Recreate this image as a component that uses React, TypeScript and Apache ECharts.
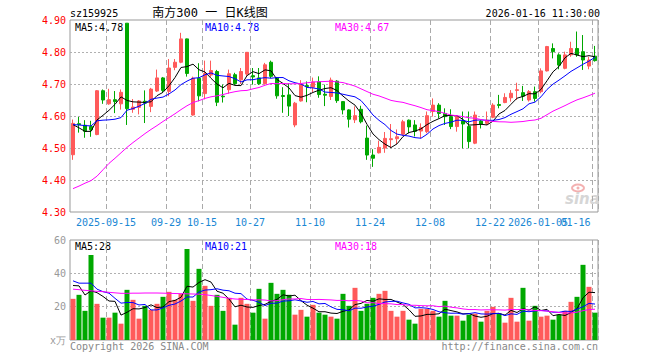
import React, { useEffect, useRef } from 'react';
import * as echarts from 'echarts';

const dates = [
  '2025-09-05','2025-09-08','2025-09-09','2025-09-10','2025-09-11','2025-09-12','2025-09-15','2025-09-16','2025-09-17','2025-09-18',
  '2025-09-19','2025-09-22','2025-09-23','2025-09-24','2025-09-25','2025-09-26','2025-09-29','2025-09-30',
  '2025-10-09','2025-10-10','2025-10-13','2025-10-14','2025-10-15','2025-10-16','2025-10-17','2025-10-20','2025-10-21','2025-10-22',
  '2025-10-23','2025-10-24','2025-10-27','2025-10-28','2025-10-29','2025-10-30','2025-10-31',
  '2025-11-03','2025-11-04','2025-11-05','2025-11-06','2025-11-07','2025-11-10','2025-11-11','2025-11-12','2025-11-13','2025-11-14',
  '2025-11-17','2025-11-18','2025-11-19','2025-11-20','2025-11-21','2025-11-24','2025-11-25','2025-11-26','2025-11-27','2025-11-28',
  '2025-12-01','2025-12-02','2025-12-03','2025-12-04','2025-12-05','2025-12-08','2025-12-09','2025-12-10','2025-12-11','2025-12-12',
  '2025-12-15','2025-12-16','2025-12-17','2025-12-18','2025-12-19','2025-12-22','2025-12-23','2025-12-24','2025-12-25','2025-12-26',
  '2025-12-29','2025-12-30','2025-12-31',
  '2026-01-05','2026-01-06','2026-01-07','2026-01-08','2026-01-09','2026-01-12','2026-01-13','2026-01-14','2026-01-15','2026-01-16',
];

const opens = [
  4.479,4.576,4.571,4.567,4.542,4.679,4.638,4.651,4.638,4.890,
  4.621,4.627,4.646,4.630,4.678,4.719,4.677,4.752,4.768,4.841,
  4.603,4.718,4.670,4.728,4.739,4.662,4.682,4.729,4.713,4.731,
  4.726,4.719,4.701,4.768,4.719,4.664,4.666,4.572,4.647,4.695,
  4.690,4.707,4.668,4.661,4.709,4.645,4.619,4.588,4.621,4.531,
  4.478,4.485,4.500,4.526,4.529,4.543,4.587,4.572,4.553,4.551,
  4.614,4.634,4.608,4.598,4.567,4.584,4.567,4.515,4.584,4.577,
  4.596,4.636,4.642,4.657,4.680,4.673,4.650,4.676,4.676,4.741,
  4.811,4.791,4.749,4.791,4.811,4.801,4.756,4.787,
];
const closes = [
  4.577,4.573,4.552,4.557,4.679,4.650,4.651,4.645,4.674,4.623,
  4.628,4.647,4.640,4.684,4.719,4.680,4.750,4.768,4.841,4.733,
  4.718,4.663,4.733,4.742,4.643,4.660,4.732,4.701,4.739,4.799,
  4.722,4.701,4.760,4.724,4.663,4.661,4.631,4.640,4.699,4.692,
  4.706,4.667,4.665,4.712,4.648,4.619,4.590,4.601,4.582,4.478,
  4.468,4.502,4.530,4.529,4.535,4.582,4.566,4.552,4.564,4.601,
  4.634,4.608,4.598,4.567,4.598,4.575,4.520,4.603,4.575,4.587,
  4.634,4.633,4.658,4.671,4.682,4.662,4.676,4.655,4.741,4.817,
  4.801,4.759,4.791,4.811,4.791,4.775,4.775,4.773,
];
const lows = [
  4.463,4.548,4.532,4.535,4.540,4.638,4.635,4.609,4.620,4.572,
  4.610,4.605,4.578,4.612,4.675,4.675,4.662,4.743,4.765,4.723,
  4.601,4.646,4.652,4.722,4.631,4.642,4.670,4.697,4.700,4.724,
  4.698,4.697,4.698,4.718,4.654,4.610,4.600,4.565,4.645,4.643,
  4.675,4.657,4.631,4.650,4.641,4.605,4.564,4.578,4.577,4.463,
  4.441,4.483,4.485,4.500,4.512,4.538,4.546,4.536,4.530,4.546,
  4.598,4.593,4.572,4.559,4.551,4.499,4.499,4.512,4.561,4.572,
  4.593,4.624,4.640,4.645,4.650,4.647,4.645,4.645,4.671,4.739,
  4.780,4.746,4.746,4.785,4.785,4.744,4.746,4.770,
];
const highs = [
  4.589,4.597,4.587,4.585,4.681,4.683,4.685,4.678,4.683,4.890,
  4.653,4.650,4.680,4.688,4.745,4.722,4.778,4.778,4.860,4.842,
  4.723,4.765,4.773,4.773,4.744,4.698,4.745,4.735,4.750,4.800,
  4.750,4.750,4.766,4.773,4.722,4.690,4.702,4.644,4.712,4.708,
  4.720,4.724,4.698,4.720,4.712,4.646,4.621,4.630,4.632,4.570,
  4.496,4.523,4.550,4.575,4.558,4.588,4.589,4.587,4.577,4.614,
  4.655,4.640,4.624,4.621,4.603,4.614,4.614,4.614,4.587,4.614,
  4.640,4.666,4.671,4.681,4.704,4.694,4.681,4.692,4.749,4.819,
  4.827,4.796,4.801,4.832,4.864,4.853,4.785,4.819,
];
// volume, unit: 万手
const volumes = [
  24.7,27.1,17.5,51.0,21.7,13.4,13.4,16.4,9.8,30.1,
  24.1,12.8,20.5,18.1,21.7,25.9,28.9,24.1,27.7,54.6,
  23.5,42.7,32.5,20.5,27.1,17.5,25.3,9.2,25.3,21.7,
  16.4,30.7,12.8,34.3,27.7,30.1,27.1,15.2,18.1,14.0,
  21.1,16.4,15.2,14.0,12.8,27.7,20.5,31.3,17.5,21.7,
  25.3,27.7,29.5,17.5,14.0,17.5,12.2,9.8,18.7,18.7,
  17.5,14.0,23.5,14.6,14.6,11.6,15.2,15.8,11.0,17.5,
  19.9,15.8,10.4,25.3,11.0,31.3,11.6,20.5,14.0,14.6,
  12.2,15.2,17.5,22.9,25.9,45.1,31.9,16.4,
];

// moving-average values before enough in-window history exists
const priceMa5Head = [4.573, 4.563, 4.552, 4.552];
const priceMa10Head = [4.573, 4.572, 4.570, 4.569, 4.585, 4.587, 4.588, 4.590, 4.595];
const priceMa30Head = [
  4.373,4.381,4.390,4.398,4.412,4.432,4.452,4.468,4.485,4.502,
  4.517,4.531,4.545,4.558,4.570,4.583,4.595,4.607,4.620,4.632,
  4.642,4.648,4.655,4.660,4.663,4.667,4.672,4.676,4.679,
];
const volMa5Head = [32.7, 32.5, 27.0, 29.5];
const volMa10Head = [35.5, 34.1, 34.1, 34.1, 30.5, 29.0, 28.1, 25.0, 22.1];
const volMa30Head = [
  30.5,30.2,29.8,29.5,29.2,29.0,28.6,28.3,28.0,28.0,
  28.1,28.1,28.2,28.2,28.2,28.1,28.0,27.9,27.8,27.7,
  27.6,27.5,27.2,26.7,26.2,25.6,25.0,24.6,24.4,
];

const tickDates = ['2025-09-15','2025-09-29','2025-10-15','2025-10-27','2025-11-10','2025-11-24','2025-12-08','2025-12-22','2026-01-05','2026-01-16'];
const tickLabels = ['2025-09-15','09-29','10-15','10-27','11-10','11-24','12-08','12-22','2026-01-05','01-16'];

const UP = '#ff5a5a';
const DOWN = '#00a800';
const MONO = '"DejaVu Sans Mono", "Liberation Mono", monospace';
const LABEL_BLUE = '#1a87d4';

function movingAverage(values: number[], n: number, head: number[]) {
  return values.map((_, i) => {
    if (i < n - 1) return head[i];
    let s = 0;
    for (let k = i - n + 1; k <= i; k++) s += values[k];
    return +(s / n).toFixed(4);
  });
}
const trunc = (v: number, d: number) => {
  const p = Math.pow(10, d);
  return (Math.floor(v * p + 1e-9) / p).toFixed(d);
};

export default function App() {
  const ref = useRef<HTMLDivElement>(null);
  useEffect(() => {
    if (!ref.current) return;
    const chart = echarts.init(ref.current, null, { renderer: 'svg' });
    const pMa5 = movingAverage(closes, 5, priceMa5Head);
    const pMa10 = movingAverage(closes, 10, priceMa10Head);
    const pMa30 = movingAverage(closes, 30, priceMa30Head);
    const vMa5 = movingAverage(volumes, 5, volMa5Head);
    const vMa10 = movingAverage(volumes, 10, volMa10Head);
    const vMa30 = movingAverage(volumes, 30, volMa30Head);
    const last = dates.length - 1;
    const tickIdx = tickDates.map((d) => dates.indexOf(d));
    const lastTick = tickIdx[tickIdx.length - 1];
    const isTick = (index: number) => tickIdx.includes(index);
    const isInnerTick = (index: number) => tickIdx.includes(index) && index !== lastTick;

    const xAxisBase = (grid: number, showLabel: boolean) => ({
      type: 'category',
      gridIndex: grid,
      position: 'bottom',
      offset: 0,
      data: dates,
      boundaryGap: true,
      axisLine: { show: false },
      axisTick: { show: false },
      splitLine: { show: true, interval: isTick, lineStyle: { color: '#aaaaaa', type: [5, 3], width: 1 } },
      axisLabel: {
        show: showLabel,
        interval: isInnerTick,
        margin: 5,
        formatter: (_v: string, index: number) => {
          const k = tickIdx.indexOf(index);
          return k < 0 ? '' : `{m|${tickLabels[k]}}`;
        },
        rich: { m: { fontFamily: MONO, fontSize: 10, color: LABEL_BLUE, padding: [0, 6, 0, 0] } },
      },
    });

    // separate axis carrying only the last date label (it overlaps the previous one, as in the original)
    const lastLabelAxis = {
      type: 'category',
      gridIndex: 0,
      position: 'bottom',
      offset: 0,
      data: dates,
      boundaryGap: true,
      axisLine: { show: false },
      axisTick: { show: false },
      splitLine: { show: false },
      axisLabel: {
        show: true,
        interval: (index: number) => index === lastTick,
        showMaxLabel: true,
        margin: 5,
        formatter: (_v: string, index: number) => (index === lastTick ? `{e|${tickLabels[tickLabels.length - 1]}}` : ''),
        rich: { e: { fontFamily: MONO, fontSize: 10, color: LABEL_BLUE, padding: [0, 39, 0, 0] } },
      },
    };

    const txt = (text: string, x: number, y: number, fill: string, align = 'left', extra: any = {}) => ({
      type: 'text',
      x,
      y,
      silent: true,
      style: { text, fill, fontFamily: MONO, fontSize: 10, align, verticalAlign: 'middle', ...extra },
    });

    chart.setOption({
      animation: false,
      backgroundColor: '#ffffff',
      grid: [
        { left: 70, top: 20, width: 528, height: 192, show: true, borderColor: '#999999', borderWidth: 1 },
        { left: 70, top: 240, width: 528, height: 100, show: true, borderColor: '#999999', borderWidth: 1 },
      ],
      xAxis: [xAxisBase(0, true), xAxisBase(1, false), lastLabelAxis],
      yAxis: [
        {
          type: 'value', gridIndex: 0, min: 4.3, max: 4.9, interval: 0.1,
          axisLine: { show: false }, axisTick: { show: false },
          axisLabel: { color: '#ff0000', fontFamily: MONO, fontSize: 10, margin: 4, formatter: (v: number) => v.toFixed(2) },
          splitLine: { show: true, showMinLine: false, showMaxLine: false, lineStyle: { color: '#b0b0b0', type: [2, 2] } },
        },
        {
          type: 'value', gridIndex: 1, min: 0, max: 60, interval: 20,
          axisLine: { show: false }, axisTick: { show: false },
          axisLabel: { color: '#999999', fontFamily: MONO, fontSize: 10, margin: 4, formatter: (v: number) => (v === 0 ? 'x万' : String(v)) },
          splitLine: { show: true, showMinLine: false, showMaxLine: false, lineStyle: { color: '#b0b0b0', type: [2, 2] } },
        },
      ],
      series: [
        {
          type: 'candlestick', xAxisIndex: 0, yAxisIndex: 0, barWidth: 4,
          data: dates.map((_, i) => [opens[i], closes[i], lows[i], highs[i]]),
          itemStyle: { color: UP, color0: DOWN, borderColor: UP, borderColor0: DOWN, borderWidth: 1 },
        },
        { type: 'line', xAxisIndex: 0, yAxisIndex: 0, data: pMa5, symbol: 'none', lineStyle: { color: '#000000', width: 1 }, z: 5 },
        { type: 'line', xAxisIndex: 0, yAxisIndex: 0, data: pMa10, symbol: 'none', lineStyle: { color: '#0000ff', width: 1 }, z: 5 },
        { type: 'line', xAxisIndex: 0, yAxisIndex: 0, data: pMa30, symbol: 'none', lineStyle: { color: '#ff00ff', width: 1 }, z: 5 },
        {
          type: 'bar', xAxisIndex: 1, yAxisIndex: 1, barWidth: 5,
          data: volumes.map((v, i) => ({ value: v, itemStyle: { color: closes[i] >= opens[i] ? UP : DOWN } })),
        },
        { type: 'line', xAxisIndex: 1, yAxisIndex: 1, data: vMa5, symbol: 'none', lineStyle: { color: '#000000', width: 1 }, z: 5 },
        { type: 'line', xAxisIndex: 1, yAxisIndex: 1, data: vMa10, symbol: 'none', lineStyle: { color: '#0000ff', width: 1 }, z: 5 },
        { type: 'line', xAxisIndex: 1, yAxisIndex: 1, data: vMa30, symbol: 'none', lineStyle: { color: '#ff00ff', width: 1 }, z: 5 },
      ],
      graphic: [
        txt('sz159925', 70, 13, '#000000'),
        {
          type: 'text', x: 210, y: 13, silent: true,
          style: { text: '南方300 一 日K线图', fill: '#000000', fontFamily: '"DejaVu Sans Mono", "Noto Sans CJK SC", sans-serif', fontSize: 12, align: 'center', verticalAlign: 'middle' },
        },
        txt('2026-01-16 11:30:00', 600, 13, '#000000', 'right'),
        txt(`MA5:${trunc(pMa5[last], 2)}`, 75, 27, '#000000'),
        txt(`MA10:${trunc(pMa10[last], 2)}`, 205, 27, '#0000ff'),
        txt(`MA30:${trunc(pMa30[last], 2)}`, 335, 27, '#ff00ff'),
        txt(`MA5:${trunc(vMa5[last], 0)}`, 75, 246, '#000000'),
        txt(`MA10:${trunc(vMa10[last], 0)}`, 205, 246, '#0000ff'),
        txt(`MA30:${trunc(vMa30[last], 0)}`, 335, 246, '#ff00ff'),
        txt('Copyright 2026 SINA.COM', 70, 346, '#888888'),
        txt('http://finance.sina.com.cn', 598, 346, '#888888', 'right'),
        {
          type: 'group', silent: true,
          children: [
            { type: 'ellipse', shape: { cx: 578, cy: 188, rx: 6, ry: 3.5 }, style: { fill: 'none', stroke: '#f3b0b0', lineWidth: 2 } },
            { type: 'circle', shape: { cx: 578, cy: 188, r: 1.5 }, style: { fill: '#f3b0b0' } },
            {
              type: 'text', x: 565, y: 199, style: { text: 'sina', fill: '#d6d6d6', fontFamily: '"DejaVu Sans", sans-serif', fontSize: 15, fontStyle: 'italic', fontWeight: 'bold', align: 'left', verticalAlign: 'middle' },
            },
          ],
        },
      ],
    });
    return () => chart.dispose();
  }, []);
  return <div ref={ref} style={{ position: 'fixed', left: 0, top: 0, width: 660, height: 360 }} />;
}
